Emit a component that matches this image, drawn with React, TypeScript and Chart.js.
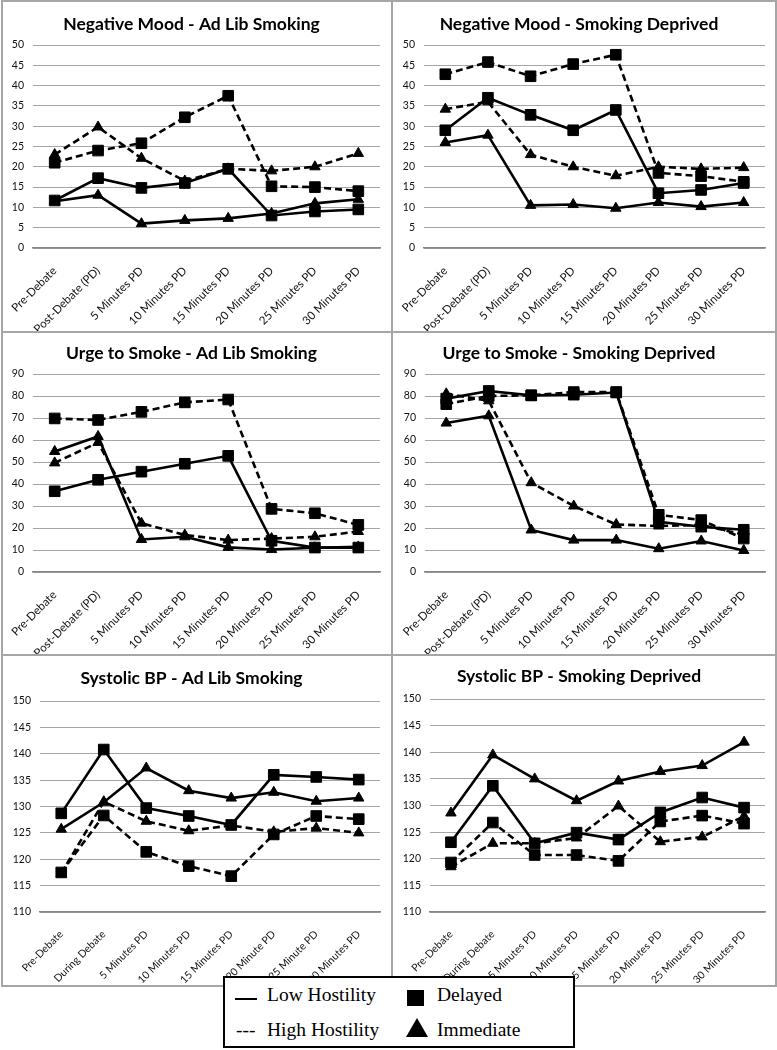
import React, { useEffect, useRef } from "react";
import { Chart, registerables } from "chart.js";

Chart.register(...registerables);

// ---------- data ----------
const moodUrgeLabels = ["Pre-Debate", "Post-Debate (PD)", "5 Minutes PD", "10 Minutes PD", "15 Minutes PD", "20 Minutes PD", "25 Minutes PD", "30 Minutes PD"];
const bpAdLibLabels = ["Pre-Debate", "During Debate", "5 Minutes PD", "10 Minutes PD", "15 Minutes PD", "20 Minute PD", "25 Minute PD", "30 Minutes PD"];
const bpDeprivedLabels = ["Pre-Debate", "During Debate", "5 Minutes PD", "10 Minutes PD", "15 Minutes PD", "20 Minutes PD", "25 Minutes PD", "30 Minutes PD"];

const moodTicks = [0, 5, 10, 15, 20, 25, 30, 35, 40, 45, 50];
const urgeTicks = [0, 10, 20, 30, 40, 50, 60, 70, 80, 90];
const bpTicks = [110, 115, 120, 125, 130, 135, 140, 145, 150];

// Negative Mood - Ad Lib Smoking
const moodAdLibLowDelayed = [11.7, 17.2, 14.8, 16.0, 19.5, 8.0, 9.0, 9.5];
const moodAdLibLowImmediate = [11.5, 13.0, 6.0, 6.8, 7.3, 8.5, 11.0, 12.0];
const moodAdLibHighDelayed = [21.0, 24.0, 25.8, 32.2, 37.5, 15.2, 15.0, 14.0];
const moodAdLibHighImmediate = [23.0, 29.8, 22.1, 16.5, 19.5, 19.0, 20.0, 23.3];

// Negative Mood - Smoking Deprived
const moodDepLowDelayed = [29.0, 37.0, 32.8, 29.0, 34.0, 13.5, 14.3, 16.0];
const moodDepLowImmediate = [26.0, 27.8, 10.5, 10.7, 9.8, 11.2, 10.2, 11.2];
const moodDepHighDelayed = [42.8, 45.8, 42.3, 45.3, 47.6, 18.5, 17.7, 16.3];
const moodDepHighImmediate = [34.2, 36.0, 23.0, 20.0, 17.8, 20.0, 19.5, 19.8];

// Urge to Smoke - Ad Lib Smoking
const urgeAdLibLowDelayed = [36.7, 41.9, 45.6, 49.2, 52.8, 14.2, 11.1, 11.1];
const urgeAdLibLowImmediate = [54.8, 61.6, 14.8, 16.0, 11.2, 10.2, 11.0, 11.4];
const urgeAdLibHighDelayed = [69.8, 69.1, 72.8, 77.1, 78.4, 28.7, 26.7, 21.4];
const urgeAdLibHighImmediate = [49.6, 58.9, 22.2, 16.8, 14.5, 15.2, 16.0, 18.4];

// Urge to Smoke - Smoking Deprived
const urgeDepLowDelayed = [78.8, 82.3, 80.3, 80.6, 81.6, 22.8, 20.6, 19.2];
const urgeDepLowImmediate = [67.7, 71.0, 19.1, 14.5, 14.5, 10.6, 14.1, 9.8];
const urgeDepHighDelayed = [76.3, 80.0, 80.3, 81.8, 81.8, 26.0, 23.6, 15.2];
const urgeDepHighImmediate = [81.0, 77.8, 40.6, 30.0, 21.6, 20.9, 21.4, 17.0];

// Systolic BP - Ad Lib Smoking
const bpAdLibLowDelayed = [128.7, 140.8, 129.7, 128.2, 126.5, 136.0, 135.6, 135.1];
const bpAdLibLowImmediate = [125.7, 130.8, 137.3, 133.0, 131.6, 132.7, 131.0, 131.6];
const bpAdLibHighDelayed = [117.5, 128.3, 121.4, 118.7, 116.8, 124.7, 128.2, 127.6];
const bpAdLibHighImmediate = [117.3, 130.9, 127.2, 125.4, 126.4, 125.2, 125.9, 125.0];

// Systolic BP - Smoking Deprived
const bpDepLowDelayed = [123.1, 133.7, 122.9, 124.9, 123.6, 128.7, 131.5, 129.6];
const bpDepLowImmediate = [128.6, 139.5, 135.0, 130.9, 134.6, 136.4, 137.5, 141.9];
const bpDepHighDelayed = [119.3, 126.8, 120.7, 120.7, 119.6, 127.0, 128.1, 126.6];
const bpDepHighImmediate = [118.5, 122.9, 122.9, 123.9, 129.9, 123.2, 124.1, 128.0];

// ---------- panels ----------
type PanelDef = {
  title: string;
  labels: string[];
  ticks: number[];
  lowDelayed: number[];
  lowImmediate: number[];
  highDelayed: number[];
  highImmediate: number[];
  xFont: number;
  box: { left: number; top: number; w: number; h: number };
  area: { left: number; right: number; top: number; bottom: number; titleY: number };
};

const panels: PanelDef[] = [
  {
    title: "Negative Mood - Ad Lib Smoking", labels: moodUrgeLabels, ticks: moodTicks,
    lowDelayed: moodAdLibLowDelayed, lowImmediate: moodAdLibLowImmediate, highDelayed: moodAdLibHighDelayed, highImmediate: moodAdLibHighImmediate,
    xFont: 11.5,
    box: { left: 1, top: 0, w: 392, h: 333 }, area: { left: 33, right: 380, top: 45, bottom: 248, titleY: 24 },
  },
  {
    title: "Negative Mood - Smoking Deprived", labels: moodUrgeLabels, ticks: moodTicks,
    lowDelayed: moodDepLowDelayed, lowImmediate: moodDepLowImmediate, highDelayed: moodDepHighDelayed, highImmediate: moodDepHighImmediate,
    xFont: 11.5,
    box: { left: 391, top: 0, w: 386, h: 333 }, area: { left: 424, right: 765, top: 45, bottom: 248, titleY: 24 },
  },
  {
    title: "Urge to Smoke - Ad Lib Smoking", labels: moodUrgeLabels, ticks: urgeTicks,
    lowDelayed: urgeAdLibLowDelayed, lowImmediate: urgeAdLibLowImmediate, highDelayed: urgeAdLibHighDelayed, highImmediate: urgeAdLibHighImmediate,
    xFont: 11.5,
    box: { left: 1, top: 331, w: 392, h: 325 }, area: { left: 33, right: 380, top: 374, bottom: 572, titleY: 353 },
  },
  {
    title: "Urge to Smoke - Smoking Deprived", labels: moodUrgeLabels, ticks: urgeTicks,
    lowDelayed: urgeDepLowDelayed, lowImmediate: urgeDepLowImmediate, highDelayed: urgeDepHighDelayed, highImmediate: urgeDepHighImmediate,
    xFont: 11.5,
    box: { left: 391, top: 331, w: 386, h: 325 }, area: { left: 425, right: 765, top: 374, bottom: 572, titleY: 353 },
  },
  {
    title: "Systolic BP - Ad Lib Smoking", labels: bpAdLibLabels, ticks: bpTicks,
    lowDelayed: bpAdLibLowDelayed, lowImmediate: bpAdLibLowImmediate, highDelayed: bpAdLibHighDelayed, highImmediate: bpAdLibHighImmediate,
    xFont: 10.5,
    box: { left: 1, top: 654, w: 392, h: 333 }, area: { left: 40, right: 380, top: 701, bottom: 912, titleY: 678 },
  },
  {
    title: "Systolic BP - Smoking Deprived", labels: bpDeprivedLabels, ticks: bpTicks,
    lowDelayed: bpDepLowDelayed, lowImmediate: bpDepLowImmediate, highDelayed: bpDepHighDelayed, highImmediate: bpDepHighImmediate,
    xFont: 10.5,
    box: { left: 391, top: 654, w: 386, h: 333 }, area: { left: 430, right: 765, top: 699, bottom: 912, titleY: 676 },
  },
];

const BORDER = 2;
const TITLE_SIZE = 17.5;
const TITLE_LH = 1.2;

function Panel({ def }: { def: PanelDef }) {
  const ref = useRef<HTMLCanvasElement | null>(null);
  const cLeft = def.box.left + BORDER;
  const cTop = def.box.top + BORDER;
  const cW = def.box.w - 2 * BORDER;
  const cH = def.box.h - 2 * BORDER;

  useEffect(() => {
    if (!ref.current) return;
    const a = def.area;
    const relLeft = a.left - cLeft;
    const relRight = cW - (a.right - cLeft);
    const relTop = a.top - cTop;
    const relBottom = cH - (a.bottom - cTop);
    const titleH = TITLE_SIZE * TITLE_LH;
    const padTop = a.titleY - cTop - titleH / 2;
    const titleBottomPad = relTop - padTop - titleH;
    const min = def.ticks[0];
    const max = def.ticks[def.ticks.length - 1];
    const step = def.ticks[1] - def.ticks[0];

    const mk = (data: number[], dashed: boolean, style: string, radius: number) => ({
      data,
      borderColor: "#000",
      backgroundColor: "#000",
      borderWidth: 2.6,
      borderDash: dashed ? [7, 4] : [],
      pointStyle: style,
      pointRadius: radius,
      pointBorderWidth: 1,
      pointBackgroundColor: "#000",
      pointBorderColor: "#000",
      tension: 0,
      fill: false,
    });

    const chart = new Chart(ref.current, {
      type: "line",
      data: {
        labels: def.labels,
        datasets: [
          mk(def.highDelayed, true, "rect", 7.5),
          mk(def.highImmediate, true, "triangle", 6),
          mk(def.lowDelayed, false, "rect", 7.5),
          mk(def.lowImmediate, false, "triangle", 6),
        ],
      },
      options: {
        responsive: false,
        animation: false,
        devicePixelRatio: 1,
        layout: { padding: { left: 0, right: relRight, top: padTop, bottom: 0 } },
        plugins: {
          legend: { display: false },
          tooltip: { enabled: false },
          title: {
            display: true,
            text: def.title,
            color: "#000",
            font: { family: "Lato", size: TITLE_SIZE, weight: "bold", lineHeight: TITLE_LH },
            padding: { top: 0, bottom: titleBottomPad },
          },
        },
        scales: {
          x: {
            offset: true,
            grid: { display: false },
            border: { display: true, color: "#868686", width: 1.5 },
            ticks: {
              color: "#111",
              font: { family: "Lato", size: def.xFont },
              minRotation: 45,
              maxRotation: 45,
              padding: 8,
              autoSkip: false,
            },
            afterFit: (s: any) => { s.height = relBottom; },
          },
          y: {
            min, max,
            grid: { color: "#a6a6a6", lineWidth: 1, drawTicks: false },
            border: { display: false },
            ticks: {
              stepSize: step,
              color: "#111",
              font: { family: "Lato", size: 10.5 },
              padding: 9,
            },
            afterFit: (s: any) => { s.width = relLeft; },
          },
        },
      } as any,
    });
    return () => chart.destroy();
  }, [def]);

  return (
    <>
      <div
        style={{
          position: "absolute",
          left: def.box.left,
          top: def.box.top,
          width: def.box.w,
          height: def.box.h,
          boxSizing: "border-box",
          border: `${BORDER}px solid #a6a6a6`,
          background: "#fff",
        }}
      />
      <canvas
        ref={ref}
        width={cW}
        height={cH}
        style={{ position: "absolute", left: cLeft, top: cTop, width: cW, height: cH }}
      />
    </>
  );
}

function Legend() {
  const L = 225, T = 978;
  const txt: React.CSSProperties = {
    position: "absolute",
    fontFamily: "'Liberation Serif', 'Times New Roman', serif",
    fontSize: 19.5,
    lineHeight: 1,
    color: "#000",
    whiteSpace: "nowrap",
  };
  return (
    <div
      style={{
        position: "absolute",
        left: 223,
        top: 976,
        width: 352,
        height: 72,
        boxSizing: "border-box",
        border: "2px solid #000",
        background: "#fff",
        zIndex: 5,
      }}
    >
      <div style={{ position: "absolute", left: 235 - L, top: 998 - T, width: 22, height: 2, background: "#000" }} />
      <span style={{ ...txt, left: 267 - L, top: 985 - T }}>Low Hostility</span>
      <div style={{ position: "absolute", left: 407 - L, top: 990 - T, width: 17, height: 16, background: "#000" }} />
      <span style={{ ...txt, left: 437 - L, top: 985 - T }}>Delayed</span>
      <span style={{ ...txt, left: 236 - L, top: 1020 - T }}>---</span>
      <span style={{ ...txt, left: 267 - L, top: 1020 - T }}>High Hostility</span>
      <div
        style={{
          position: "absolute",
          left: 406 - L,
          top: 1018 - T,
          width: 0,
          height: 0,
          borderLeft: "11px solid transparent",
          borderRight: "11px solid transparent",
          borderBottom: "19px solid #000",
        }}
      />
      <span style={{ ...txt, left: 437 - L, top: 1020 - T }}>Immediate</span>
    </div>
  );
}

export default function App() {
  return (
    <div style={{ position: "absolute", left: 0, top: 0, width: 777, height: 1050, background: "#fff", overflow: "hidden" }}>
      {panels.map((p, i) => (
        <Panel key={i} def={p} />
      ))}
      <Legend />
    </div>
  );
}
